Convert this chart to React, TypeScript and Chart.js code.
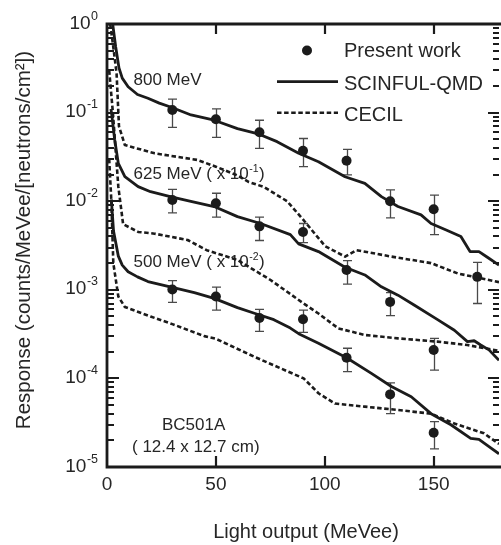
import React, { useEffect, useRef } from 'react';
import { Chart, registerables } from 'chart.js';
Chart.register(...registerables);

// ---------- data ----------
const xTicks = [0, 50, 100, 150];
const yTickExponents = [0, -1, -2, -3, -4, -5];

const measX = [30, 50, 70, 90, 110, 130, 150];
const meas800X = [30, 50, 70, 90, 110, 130, 150, 170];
const meas800Y = [0.107, 0.084, 0.06, 0.037, 0.0286, 0.01, 0.0081, 0.0014];
const meas800Lo = [0.068, 0.0526, 0.0395, 0.0245, 0.0198, 0.0065, 0.0042, 0.0007];
const meas800Hi = [0.142, 0.11, 0.082, 0.051, 0.0385, 0.0134, 0.0117, 0.00204];

const meas625Y = [0.0103, 0.0095, 0.0052, 0.0045, 0.00167, 0.00073, 0.000209];
const meas625Lo = [0.0074, 0.0066, 0.0036, 0.0034, 0.00116, 0.00051, 0.000124];
const meas625Hi = [0.0136, 0.0123, 0.0066, 0.0056, 0.00213, 0.00093, 0.000283];

const meas500Y = [0.00101, 0.00084, 0.00048, 0.000465, 0.000171, 0.000066, 0.0000244];
const meas500Lo = [0.00072, 0.00059, 0.00034, 0.00033, 0.000119, 0.00004, 0.000016];
const meas500Hi = [0.00127, 0.00107, 0.0006, 0.00059, 0.000219, 0.000089, 0.0000325];

const qmd800X = [2.5, 4, 5.5, 7, 9.7, 14, 18.8, 24, 29.5, 38.6, 49.2, 59.9, 69, 78.1, 88, 97.1, 109.3, 118.4, 126, 133.6, 144.2, 148.8, 156, 162.5, 166.7, 170.8, 175, 180];
const qmd800Y = [1.05, 0.55, 0.32, 0.245, 0.196, 0.16, 0.145, 0.128, 0.115, 0.094, 0.082, 0.066, 0.058, 0.047, 0.0347, 0.0279, 0.0189, 0.0159, 0.01125, 0.0087, 0.007, 0.0056, 0.0047, 0.004, 0.0027, 0.0027, 0.0023, 0.0019];

const qmd625X = [1.8, 2.1, 3.5, 5.2, 8.2, 14.3, 20, 29.5, 39, 49.2, 59.9, 70.5, 84.2, 88, 97.1, 109.3, 118.4, 126, 133.6, 141.2, 151.8, 159.5, 165.5, 168.6, 171.6, 175.4, 180];
const qmd625Y = [0.11, 0.098, 0.05, 0.0267, 0.0189, 0.0146, 0.0128, 0.0112, 0.0099, 0.0087, 0.0067, 0.0056, 0.0042, 0.0033, 0.0027, 0.0018, 0.00147, 0.00108, 0.00087, 0.00067, 0.00046, 0.00035, 0.00026, 0.000266, 0.000238, 0.00021, 0.00016];

const qmd500X = [2, 3, 5.2, 7, 9.7, 14, 18.8, 29.5, 40.1, 49.2, 59.9, 68, 76.6, 84.2, 88, 97.1, 110, 121.4, 130.6, 139.7, 148.8, 157.9, 167, 170.8, 175.4, 180];
const qmd500Y = [0.0105, 0.0046, 0.0024, 0.0019, 0.0016, 0.0014, 0.00124, 0.00107, 0.00093, 0.0008, 0.00063, 0.00054, 0.00046, 0.00037, 0.00032, 0.00025, 0.000171, 0.000114, 0.000081, 0.000062, 0.00004, 0.00003, 0.000021, 0.0000205, 0.000017, 0.0000141];

const cecil800X = [1, 2.7, 4.4, 5.5, 8.2, 21.9, 41.6, 50, 60, 65, 72, 82.7, 90.3, 100.2, 109.3, 114.6, 130.6, 148.8, 161, 180];
const cecil800Y = [1.2, 0.6, 0.277, 0.07, 0.043, 0.0347, 0.0292, 0.0245, 0.0195, 0.0165, 0.0145, 0.01, 0.0061, 0.0031, 0.00237, 0.0028, 0.00237, 0.002, 0.00153, 0.00122];

const cecil625X = [1, 2.7, 5.2, 7.4, 14.3, 21.9, 37, 45.8, 59.9, 75.1, 90.3, 97.1, 106.2, 118.4, 133.6, 151.8, 165.5, 180];
const cecil625Y = [0.3, 0.1, 0.0146, 0.0055, 0.0045, 0.0043, 0.00365, 0.0028, 0.00217, 0.00129, 0.0007, 0.00054, 0.000367, 0.000309, 0.000283, 0.00026, 0.000238, 0.000205];

const cecil500X = [1, 2, 2.9, 5.2, 8.2, 20, 30, 44.7, 50, 67.5, 90.3, 97.1, 104.7, 118.4, 133.6, 148.8, 159.5, 173.1, 180];
const cecil500Y = [0.03, 0.01, 0.002, 0.00084, 0.00064, 0.0005, 0.00041, 0.0003, 0.00028, 0.000176, 0.0001, 0.000068, 0.000052, 0.000048, 0.000044, 0.00004, 0.000031, 0.000024, 0.0000182];

const legendLabels = ['Present work', 'SCINFUL-QMD', 'CECIL'];
const energyLabels = ['800 MeV', '625 MeV ( x 10', '500 MeV ( x 10'];
const energyExponents = ['', '-1', '-2'];
const detectorLabels = ['BC501A', '( 12.4 x 12.7 cm)'];
const xTitle = 'Light output (MeVee)';
const yTitle = 'Response (counts/MeVee/[neutrons/cm\u00B2])';

// ---------- style ----------
const FONT = '"Liberation Sans", Arial, Helvetica, sans-serif';
const INK = '#1b1b1b';
const TEXT = '#262626';
const ERR = '#4a4a4a';
const DASH = [4.5, 2.6];

const pts = (xs: number[], ys: number[]) => xs.map((x, i) => ({ x, y: ys[i] }));

const errorSets = [
  { x: meas800X, lo: meas800Lo, hi: meas800Hi },
  { x: measX, lo: meas625Lo, hi: meas625Hi },
  { x: measX, lo: meas500Lo, hi: meas500Hi },
];

const drawSupText = (ctx: CanvasRenderingContext2D, x: number, y: number, main: string, sup: string, mainSize: number, supSize: number, supRise: number, tail: string) => {
  ctx.textAlign = 'left';
  ctx.font = `${mainSize}px ${FONT}`;
  ctx.fillText(main, x, y);
  let cx = x + ctx.measureText(main).width;
  if (sup) {
    ctx.font = `${supSize}px ${FONT}`;
    ctx.fillText(sup, cx + 0.5, y - supRise);
    cx += ctx.measureText(sup).width + 1;
    ctx.font = `${mainSize}px ${FONT}`;
    if (tail) ctx.fillText(tail, cx, y);
  }
};

const figurePlugin = {
  id: 'figure',
  beforeDatasetsDraw(chart: any) {
    const { ctx, chartArea } = chart;
    const xs = chart.scales.x;
    const ys = chart.scales.y;
    ctx.save();
    ctx.fillStyle = TEXT;
    ctx.textBaseline = 'alphabetic';
    // energy annotations
    const baselines = [85, 178.5, 266.5];
    energyLabels.forEach((t, i) => {
      drawSupText(ctx, 133.5, baselines[i], t, energyExponents[i], 17, 10.5, 6.5, ')');
    });
    ctx.font = `17px ${FONT}`;
    ctx.textAlign = 'left';
    ctx.fillText(detectorLabels[0], 162, 430);
    ctx.fillText(detectorLabels[1], 132, 451.7);

    // error bars
    ctx.beginPath();
    ctx.rect(chartArea.left, chartArea.top, chartArea.right - chartArea.left, chartArea.bottom - chartArea.top);
    ctx.clip();
    ctx.strokeStyle = ERR;
    ctx.lineWidth = 1.3;
    errorSets.forEach((s) => {
      s.x.forEach((xv, i) => {
        const px = Math.round(xs.getPixelForValue(xv)) + 0.5;
        const y1 = ys.getPixelForValue(s.hi[i]);
        const y2 = ys.getPixelForValue(s.lo[i]);
        ctx.beginPath();
        ctx.moveTo(px, y1);
        ctx.lineTo(px, y2);
        ctx.moveTo(px - 4.5, y1);
        ctx.lineTo(px + 4.5, y1);
        ctx.moveTo(px - 4.5, y2);
        ctx.lineTo(px + 4.5, y2);
        ctx.stroke();
      });
    });
    ctx.restore();
  },
  afterDraw(chart: any) {
    const { ctx, chartArea } = chart;
    const xs = chart.scales.x;
    const ys = chart.scales.y;
    const { left, right, top, bottom } = chartArea;
    ctx.save();
    ctx.strokeStyle = INK;
    ctx.fillStyle = TEXT;

    // frame (left, top, bottom; right edge is cut off)
    ctx.lineWidth = 2.8;
    ctx.beginPath();
    ctx.moveTo(right + 2, top);
    ctx.lineTo(left, top);
    ctx.lineTo(left, bottom);
    ctx.lineTo(right + 2, bottom);
    ctx.stroke();

    // x ticks (inside, bottom and top)
    ctx.lineWidth = 2.2;
    xTicks.forEach((v) => {
      if (v === 0) return;
      const px = Math.round(xs.getPixelForValue(v));
      ctx.beginPath();
      ctx.moveTo(px, bottom);
      ctx.lineTo(px, bottom - 11);
      ctx.moveTo(px, top);
      ctx.lineTo(px, top + 10);
      ctx.stroke();
    });

    // y ticks (inside, left and right), log minor ticks
    for (let e = -5; e <= 0; e++) {
      for (let m = 1; m <= 9; m++) {
        const v = m * Math.pow(10, e);
        if (v > 1.0000001) break;
        const py = Math.round(ys.getPixelForValue(v));
        const major = m === 1;
        ctx.lineWidth = 2;
        ctx.beginPath();
        ctx.moveTo(left, py);
        ctx.lineTo(left + (major ? 12 : 7), py);
        ctx.moveTo(right, py);
        ctx.lineTo(right - (major ? 11 : 6), py);
        ctx.stroke();
      }
    }

    // x tick labels
    ctx.textBaseline = 'alphabetic';
    ctx.textAlign = 'center';
    ctx.font = `19px ${FONT}`;
    xTicks.forEach((v) => {
      ctx.fillText(String(v), xs.getPixelForValue(v), 490);
    });

    // y tick labels: 10 with superscript exponent
    yTickExponents.forEach((e) => {
      const py = ys.getPixelForValue(Math.pow(10, e));
      const sup = String(e);
      ctx.font = `12.5px ${FONT}`;
      const sw = ctx.measureText(sup).width;
      ctx.textAlign = 'right';
      ctx.fillText(sup, 98, py - 4.5);
      ctx.font = `19px ${FONT}`;
      ctx.fillText('10', 98 - sw - 0.5, py + 4.5);
    });

    // axis titles
    ctx.font = `20px ${FONT}`;
    ctx.textAlign = 'center';
    ctx.fillText(xTitle, 306, 538);
    ctx.save();
    ctx.translate(30, 240);
    ctx.rotate(-Math.PI / 2);
    ctx.font = `20.5px ${FONT}`;
    ctx.textAlign = 'center';
    ctx.fillText(yTitle, 0, 0);
    ctx.restore();

    // legend
    ctx.fillStyle = INK;
    ctx.beginPath();
    ctx.arc(307, 50.5, 5, 0, Math.PI * 2);
    ctx.fill();
    ctx.lineWidth = 2.8;
    ctx.beginPath();
    ctx.moveTo(277, 81.7);
    ctx.lineTo(338, 81.7);
    ctx.stroke();
    ctx.setLineDash(DASH);
    ctx.lineWidth = 2.6;
    ctx.beginPath();
    ctx.moveTo(277, 112.7);
    ctx.lineTo(338, 112.7);
    ctx.stroke();
    ctx.setLineDash([]);
    ctx.fillStyle = TEXT;
    ctx.font = `20px ${FONT}`;
    ctx.textAlign = 'left';
    ctx.fillText(legendLabels[0], 344, 57);
    ctx.fillText(legendLabels[1], 344, 89.5);
    ctx.fillText(legendLabels[2], 344, 120.5);
    ctx.restore();
  },
};

const pointSet = (label: string, xs: number[], ys: number[]) => ({
  type: 'line' as const,
  label,
  data: pts(xs, ys),
  showLine: false,
  pointRadius: 5,
  pointHoverRadius: 5,
  pointBackgroundColor: INK,
  pointBorderColor: INK,
  pointBorderWidth: 0,
});

const lineSet = (label: string, xs: number[], ys: number[], dashed: boolean) => ({
  type: 'line' as const,
  label,
  data: pts(xs, ys),
  borderColor: INK,
  borderWidth: dashed ? 2.6 : 2.8,
  borderDash: dashed ? DASH : [],
  borderJoinStyle: 'round' as const,
  pointRadius: 0,
  fill: false,
  tension: 0,
  clip: 0,
});

export default function App() {
  const ref = useRef<HTMLCanvasElement>(null);
  useEffect(() => {
    if (!ref.current) return;
    const chart = new Chart(ref.current, {
      type: 'line',
      data: {
        datasets: [
          pointSet('Present work 800 MeV', meas800X, meas800Y),
          pointSet('Present work 625 MeV', measX, meas625Y),
          pointSet('Present work 500 MeV', measX, meas500Y),
          lineSet('SCINFUL-QMD 800 MeV', qmd800X, qmd800Y, false),
          lineSet('SCINFUL-QMD 625 MeV', qmd625X, qmd625Y, false),
          lineSet('SCINFUL-QMD 500 MeV', qmd500X, qmd500Y, false),
          lineSet('CECIL 800 MeV', cecil800X, cecil800Y, true),
          lineSet('CECIL 625 MeV', cecil625X, cecil625Y, true),
          lineSet('CECIL 500 MeV', cecil500X, cecil500Y, true),
        ] as any,
      },
      options: {
        responsive: false,
        maintainAspectRatio: false,
        devicePixelRatio: 1,
        animation: false,
        layout: { padding: { left: 107, right: 2, top: 24, bottom: 78 } },
        scales: {
          x: { type: 'linear', min: 0, max: 180, display: false },
          y: { type: 'logarithmic', min: 1e-5, max: 1, display: false },
        },
        plugins: {
          legend: { display: false },
          tooltip: { enabled: false },
        },
        events: [],
      },
      plugins: [figurePlugin],
    });
    return () => chart.destroy();
  }, []);
  return (
    <div style={{ position: 'fixed', left: 0, top: 0, width: 501, height: 545, overflow: 'hidden', background: '#fff' }}>
      <canvas ref={ref} width={504} height={545} style={{ display: 'block', width: 504, height: 545 }} />
    </div>
  );
}
